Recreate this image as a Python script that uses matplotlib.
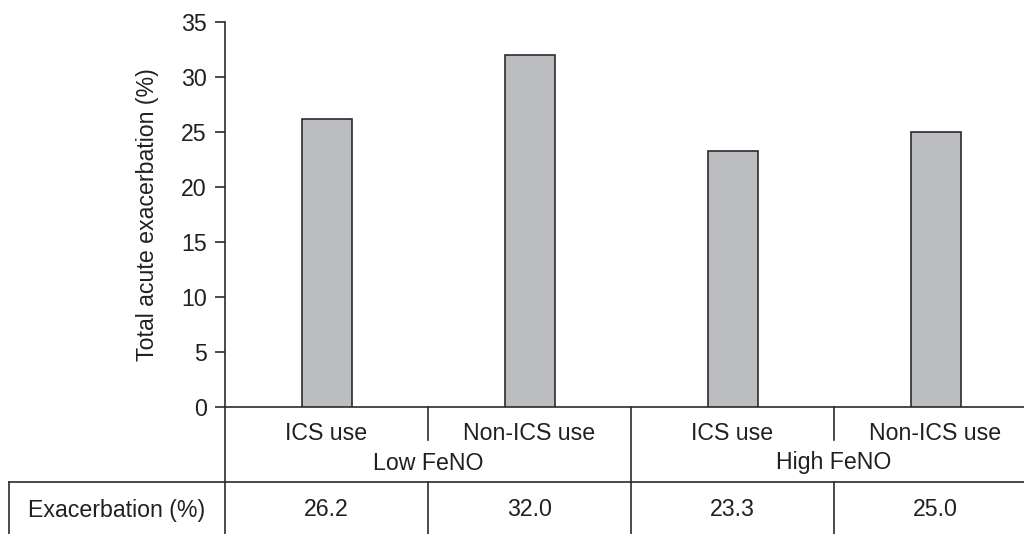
import matplotlib
matplotlib.use('Agg')
import matplotlib.pyplot as plt

# data
groups = ['Low FeNO', 'High FeNO']
subgroups = ['ICS use', 'Non-ICS use', 'ICS use', 'Non-ICS use']
values = [26.2, 32.0, 23.3, 25.0]
table_labels = ['26.2', '32.0', '23.3', '25.0']
row_label = 'Exacerbation (%)'
yticks = [0, 5, 10, 15, 20, 25, 30, 35]

plt.rcParams['font.family'] = ['Liberation Sans', 'DejaVu Sans']
txt = '#231f20'
fs = 16.7

W, H = 1024, 534
fig = plt.figure(figsize=(W / 100, H / 100), dpi=100)
x0, y0, y35 = 225, 407, 22
ax = fig.add_axes([x0 / W, (H - y0) / H, 1 - x0 / W, (y0 - y35) / H])

cell = 203.0
xs = [i + 0.5 for i in range(len(values))]
ax.bar(xs, values, width=50 / cell, color='#bcbdc1', edgecolor='#2b2b2b', linewidth=1.2, zorder=3)

ax.set_xlim(0, (W - x0) / cell)
ax.set_ylim(0, 35)
ax.set_yticks(yticks)
ax.set_yticklabels([str(v) for v in yticks], fontsize=fs, color=txt)
ax.tick_params(axis='y', direction='out', length=7, width=1.2, color='#2b2b2b', pad=6)
ax.set_xticks([])
for s in ['top', 'right']:
    ax.spines[s].set_visible(False)
for s in ['left', 'bottom']:
    ax.spines[s].set_linewidth(1.2)
    ax.spines[s].set_color('#2b2b2b')

ax.set_ylabel('Total acute exacerbation (%)', fontsize=fs, color=txt)
ax.yaxis.set_label_coords((159 - x0) / (W - x0), 0.5)

# table below the axis (axes-fraction y, data x)
tr = ax.get_xaxis_transform()
ph = float(y0 - y35)
def fy(py):
    return -(py - y0) / ph

lk = dict(color='#2b2b2b', lw=1.2, clip_on=False, transform=tr)
# left spine extended to bottom
ax.plot([0, 0], [0, fy(H + 2)], **lk)
# short dividers between subgroups
for b in [1, 3]:
    ax.plot([b, b], [0, fy(440)], **lk)
# group divider
ax.plot([2, 2], [0, fy(H + 2)], **lk)
# table row
xleft = -(x0 - 9) / cell
ax.plot([xleft, 10], [fy(482), fy(482)], **lk)
ax.plot([xleft, xleft], [fy(482), fy(H + 2)], **lk)
for b in [1, 3]:
    ax.plot([b, b], [fy(482), fy(H + 2)], **lk)

for x, s in zip(xs, subgroups):
    ax.text(x, fy(433), s, transform=tr, ha='center', va='center', fontsize=fs, color=txt)
for i, g in enumerate(groups):
    ax.text(2 * i + 1, fy(463), g, transform=tr, ha='center', va='center', fontsize=fs, color=txt)
for x, s in zip(xs, table_labels):
    ax.text(x, fy(510), s, transform=tr, ha='center', va='center', fontsize=fs, color=txt)
ax.text(xleft / 2, fy(510), row_label, transform=tr, ha='center', va='center', fontsize=fs, color=txt)

fig.savefig('out.png', dpi=100)
